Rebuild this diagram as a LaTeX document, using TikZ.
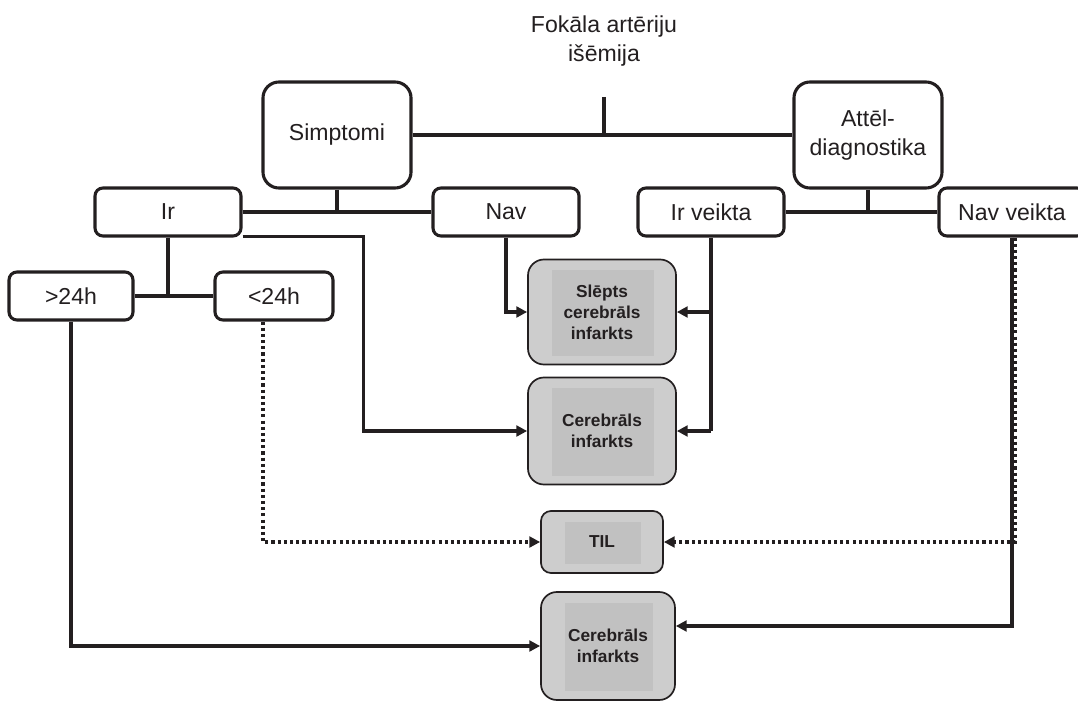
\documentclass[tikz,border=0pt]{standalone}
\usepackage{fontspec}
\setmainfont{Liberation Sans}
\usetikzlibrary{arrows.meta}
\definecolor{ink}{RGB}{35,31,32}
\definecolor{boxgray}{RGB}{205,205,205}
\definecolor{innergray}{RGB}{193,193,193}
\begin{document}
\begin{tikzpicture}[x=0.025cm,y=-0.025cm,
  every node/.style={text=ink},
  big/.style={draw=ink,line width=2.2pt,rounded corners=0.4cm,fill=white,align=center,
    font=\fontsize{16.4}{20}\selectfont,minimum width=3.7cm,minimum height=2.65cm},
  small/.style={draw=ink,line width=2.2pt,rounded corners=0.2cm,fill=white,
    font=\fontsize{16.4}{20}\selectfont,minimum width=3.65cm,minimum height=1.2cm},
  result/.style={draw=ink,line width=1.2pt,rounded corners=0.4cm,fill=boxgray,align=center,
    font=\bfseries\fontsize{12.3}{15}\selectfont,
    path picture={\fill[innergray,sharp corners] ([xshift=0.6cm,yshift=-0.27cm]path picture bounding box.north west)
      rectangle ([xshift=-0.55cm,yshift=0.22cm]path picture bounding box.south east);}},
  conn/.style={draw=ink,line width=2.2pt},
  arr/.style={conn,-{Triangle[length=0.27cm,width=0.27cm]}},
  dotarr/.style={arr,dash pattern=on 2.2pt off 2.2pt}]
\useasboundingbox (0,0) rectangle (1078,702);
% top of the tree
\node[align=center,font=\fontsize{16.4}{21}\selectfont] (title) at (604,41) {Fokāla artēriju\\išēmija};
\coordinate (top) at (604,97);
\node[big] (simptomi) at (337,135) {Simptomi};
\node[big] (attel) at (868,135) {Attēl-\\diagnostika};
% second row
\node[small] (ir) at (168,212) {Ir};
\node[small] (nav) at (506,212) {Nav};
\node[small] (irveikta) at (711,212) {Ir veikta};
\node[small] (navveikta) at (1012,212) {Nav veikta};
\node[small,minimum width=3.1cm] (gt) at (71,296) {>24h};
\node[small,minimum width=2.95cm] (lt) at (274,296) {<24h};
% results
\node[result,minimum width=3.7cm,minimum height=2.625cm] (slepts) at (602,312) {Slēpts\\cerebrāls\\infarkts};
\node[result,minimum width=3.7cm,minimum height=2.675cm] (cer) at (602,431) {Cerebrāls\\infarkts};
\node[result,minimum width=3.05cm,minimum height=1.55cm,rounded corners=0.25cm] (til) at (602,542) {TIL};
\node[result,minimum width=3.35cm,minimum height=2.7cm] (cerb) at (608,646) {Cerebrāls\\infarkts};
% tree lines
\draw[conn] (top) -- (top |- simptomi.east);
\draw[conn] (simptomi.east) -- (attel.west);
\draw[conn] (simptomi.south) -- (simptomi.south |- ir.east);
\draw[conn] (ir.east) -- (nav.west);
\draw[conn] (attel.south) -- (attel.south |- irveikta.east);
\draw[conn] (irveikta.east) -- (navveikta.west);
\draw[conn] (ir.south) -- (ir.south |- gt.east);
\draw[conn] (gt.east) -- (lt.west);
% arrows to the results
\draw[arr] ([yshift=0.03cm]ir.south east) -- ++(121,0) |- (cer.west);
\draw[arr] (nav.south) |- (slepts.west);
\draw[conn] (irveikta.south) -- (irveikta.south |- cer.east);
\draw[arr] (irveikta.south |- slepts.east) -- (slepts.east);
\draw[arr] (irveikta.south |- cer.east) -- (cer.east);
\draw[dotarr] ([xshift=-0.275cm]lt.south) |- (til.west);
\draw[dotarr] ([xshift=0.08cm]navveikta.south) |- (til.east);
\draw[arr] (navveikta.south) |- ([yshift=0.5cm]cerb.east);
\draw[arr] (gt.south) |- (cerb.west);
\end{tikzpicture}
\end{document}
